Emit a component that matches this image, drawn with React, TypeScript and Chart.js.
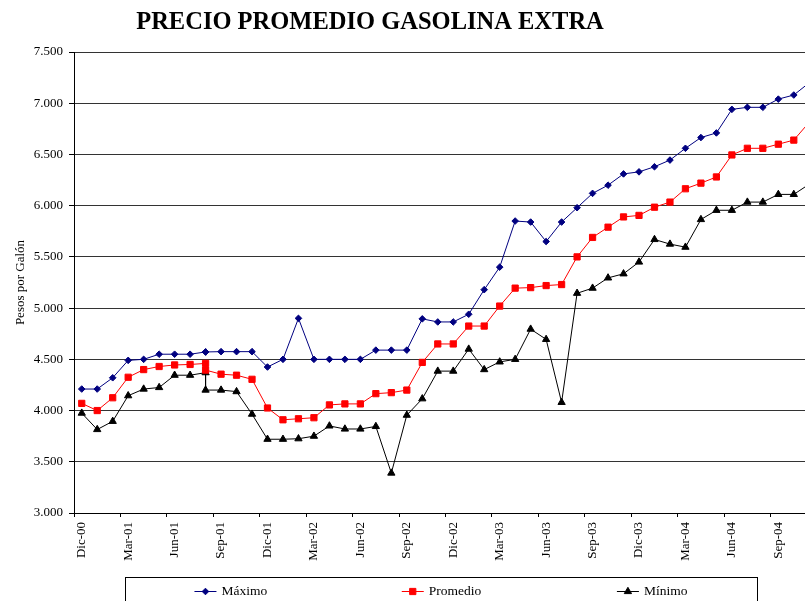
import React, { useEffect, useRef } from "react";
import { Chart, registerables } from "chart.js";

Chart.register(...registerables);

const TITLE = "PRECIO PROMEDIO GASOLINA EXTRA";
const Y_TITLE = "Pesos por Galón";

const months = [
  "Dic-00", "Ene-01", "Feb-01", "Mar-01", "Abr-01", "May-01", "Jun-01", "Jul-01", "Ago-01", "Sep-01", "Oct-01", "Nov-01",
  "Dic-01", "Ene-02", "Feb-02", "Mar-02", "Abr-02", "May-02", "Jun-02", "Jul-02", "Ago-02", "Sep-02", "Oct-02", "Nov-02",
  "Dic-02", "Ene-03", "Feb-03", "Mar-03", "Abr-03", "May-03", "Jun-03", "Jul-03", "Ago-03", "Sep-03", "Oct-03", "Nov-03",
  "Dic-03", "Ene-04", "Feb-04", "Mar-04", "Abr-04", "May-04", "Jun-04", "Jul-04", "Ago-04", "Sep-04", "Oct-04", "Nov-04",
];

// observation months (Aug-01 has two observations)
const pointMonths = [
  "Dic-00", "Ene-01", "Feb-01", "Mar-01", "Abr-01", "May-01", "Jun-01", "Jul-01", "Ago-01", "Ago-01", "Sep-01", "Oct-01", "Nov-01",
  "Dic-01", "Ene-02", "Feb-02", "Mar-02", "Abr-02", "May-02", "Jun-02", "Jul-02", "Ago-02", "Sep-02", "Oct-02", "Nov-02",
  "Dic-02", "Ene-03", "Feb-03", "Mar-03", "Abr-03", "May-03", "Jun-03", "Jul-03", "Ago-03", "Sep-03", "Oct-03", "Nov-03",
  "Dic-03", "Ene-04", "Feb-04", "Mar-04", "Abr-04", "May-04", "Jun-04", "Jul-04", "Ago-04", "Sep-04", "Oct-04", "Nov-04",
];

const maximo = [
  4210, 4210, 4320, 4490, 4500, 4550, 4550, 4550, 4572, 4572, 4575, 4575, 4575,
  4425, 4500, 4900, 4500, 4500, 4500, 4500, 4590, 4590, 4590, 4895, 4865,
  4865, 4940, 5180, 5400, 5850, 5840, 5650, 5840, 5980, 6120, 6200, 6310,
  6330, 6380, 6445, 6560, 6665, 6710, 6940, 6960, 6960, 7040, 7080, 7200,
];

const promedio = [
  4070, 4000, 4125, 4325, 4400, 4430, 4445, 4450, 4460, 4395, 4355, 4345, 4305,
  4025, 3910, 3920, 3930, 4055, 4065, 4065, 4165, 4175, 4200, 4470, 4650,
  4650, 4825, 4825, 5020, 5195, 5200, 5220, 5230, 5500, 5690, 5790, 5890,
  5905, 5985, 6035, 6165, 6220, 6280, 6495, 6560, 6560, 6600, 6640, 6815,
];

const minimo = [
  3975, 3815, 3895, 4145, 4210, 4225, 4345, 4345, 4370, 4200, 4200, 4185, 3965,
  3720, 3720, 3725, 3750, 3850, 3820, 3820, 3845, 3390, 3955, 4115, 4385,
  4385, 4600, 4400, 4475, 4500, 4795, 4695, 4080, 5145, 5195, 5295, 5335,
  5450, 5670, 5625, 5595, 5865, 5955, 5955, 6035, 6035, 6110, 6110, 6210,
];

const yTicks = [3000, 3500, 4000, 4500, 5000, 5500, 6000, 6500, 7000, 7500];

const FONT = "'Liberation Serif', 'Times New Roman', serif";

const fmt = (v: number) => {
  const n = Math.round(v);
  const th = Math.floor(n / 1000);
  const rest = String(n % 1000).padStart(3, "0");
  return th > 0 ? `${th}.${rest}` : String(n);
};

function drawMarker(ctx: CanvasRenderingContext2D, style: string, x: number, y: number, r: number, color: string) {
  ctx.save();
  ctx.fillStyle = color;
  ctx.strokeStyle = color;
  ctx.lineWidth = 1;
  ctx.beginPath();
  if (style === "rectRot") {
    ctx.moveTo(x - r, y);
    ctx.lineTo(x, y - r);
    ctx.lineTo(x + r, y);
    ctx.lineTo(x, y + r);
  } else if (style === "rect") {
    const s = Math.SQRT1_2 * r;
    ctx.rect(x - s, y - s, 2 * s, 2 * s);
  } else {
    ctx.moveTo(x, y - r);
    ctx.lineTo(x + Math.sin((2 * Math.PI) / 3) * r, y + r / 2);
    ctx.lineTo(x - Math.sin((2 * Math.PI) / 3) * r, y + r / 2);
  }
  ctx.closePath();
  ctx.fill();
  ctx.stroke();
  ctx.restore();
}

const titlePlugin = {
  id: "customTitle",
  afterDraw(chart: any) {
    const ctx = chart.ctx as CanvasRenderingContext2D;
    ctx.save();
    ctx.font = `bold 24.5px ${FONT}`;
    ctx.fillStyle = "#000";
    ctx.textAlign = "center";
    ctx.textBaseline = "alphabetic";
    ctx.fillText(TITLE, 370, 28.5);
    ctx.restore();
  },
};

const legendPlugin = {
  id: "boxLegend",
  afterDraw(chart: any) {
    const ctx = chart.ctx as CanvasRenderingContext2D;
    const boxL = 125.5, boxT = 577.5, boxW = 632, boxH = 40;
    ctx.save();
    ctx.strokeStyle = "#000";
    ctx.lineWidth = 1;
    ctx.strokeRect(boxL, boxT, boxW, boxH);
    ctx.font = `13.5px ${FONT}`;
    ctx.textBaseline = "middle";
    ctx.textAlign = "left";
    const ds = chart.data.datasets;
    const slot = boxW / ds.length;
    const y = 591;
    ds.forEach((d: any, i: number) => {
      const tw = ctx.measureText(d.label).width;
      const lineW = 22, gap = 5;
      const gw = lineW + gap + tw;
      const x0 = boxL + slot * i + (slot - gw) / 2;
      ctx.strokeStyle = d.borderColor;
      ctx.lineWidth = 1;
      ctx.beginPath();
      ctx.moveTo(x0, y + 0.5);
      ctx.lineTo(x0 + lineW, y + 0.5);
      ctx.stroke();
      drawMarker(ctx, d.pointStyle, x0 + lineW / 2, y + 0.5, d.pointRadius, d.borderColor);
      ctx.fillStyle = "#000";
      ctx.fillText(d.label, x0 + lineW + gap, y);
    });
    ctx.restore();
  },
};

export default function App() {
  const ref = useRef<HTMLCanvasElement | null>(null);

  useEffect(() => {
    if (!ref.current) return;
    const mk = (vals: number[]) => pointMonths.map((m, i) => ({ x: m, y: vals[i] }));
    const chart = new Chart(ref.current, {
      type: "line",
      data: {
        labels: months,
        datasets: [
          {
            label: "Máximo",
            data: mk(maximo) as any,
            borderColor: "#000080",
            backgroundColor: "#000080",
            borderWidth: 1,
            pointStyle: "rectRot",
            pointRadius: 3.3,
            pointBorderWidth: 1,
            tension: 0,
          },
          {
            label: "Promedio",
            data: mk(promedio) as any,
            borderColor: "#FF0000",
            backgroundColor: "#FF0000",
            borderWidth: 1,
            pointStyle: "rect",
            pointRadius: 4.4,
            pointBorderWidth: 1,
            tension: 0,
          },
          {
            label: "Mínimo",
            data: mk(minimo) as any,
            borderColor: "#000000",
            backgroundColor: "#000000",
            borderWidth: 1,
            pointStyle: "triangle",
            pointRadius: 4.2,
            pointBorderWidth: 1,
            tension: 0,
          },
        ],
      },
      options: {
        responsive: false,
        animation: false,
        devicePixelRatio: 1,
        events: [],
        layout: { padding: { top: 52, left: 0, right: 11.5, bottom: 67 } },
        plugins: {
          legend: { display: false },
          title: { display: false },
          tooltip: { enabled: false },
        },
        scales: {
          x: {
            type: "category",
            labels: months,
            offset: true,
            grid: {
              display: true,
              drawOnChartArea: false,
              drawTicks: true,
              tickLength: 4,
              offset: true,
              tickColor: (ctx: any) => (ctx.index % 3 === 0 ? "#000" : "rgba(0,0,0,0)"),
            },
            border: { display: true, color: "#000", width: 1 },
            ticks: {
              autoSkip: false,
              maxRotation: 90,
              minRotation: 90,
              padding: 5,
              color: "#000",
              font: { family: FONT, size: 13 },
              callback: (_v: any, i: number) => (i % 3 === 0 ? months[i] : ""),
            },
            afterFit: (s: any) => {
              s.height = 60;
            },
          },
          y: {
            min: yTicks[0],
            max: yTicks[yTicks.length - 1],
            afterBuildTicks: (s: any) => {
              s.ticks = yTicks.map((v) => ({ value: v }));
            },
            ticks: {
              color: "#000",
              font: { family: FONT, size: 13 },
              padding: 6,
              callback: (v: any) => fmt(Number(v)),
            },
            grid: { color: "#333", lineWidth: 1, tickLength: 5, tickColor: "#000", drawTicks: true },
            border: { display: true, color: "#000", width: 1 },
            title: {
              display: true,
              text: Y_TITLE,
              color: "#000",
              font: { family: FONT, size: 13 },
              padding: { top: 13, bottom: 0 },
            },
            afterFit: (s: any) => {
              s.width = 74;
            },
          },
        },
      },
      plugins: [titlePlugin, legendPlugin],
    });
    return () => chart.destroy();
  }, []);

  return (
    <div
      style={{
        position: "fixed",
        left: 0,
        top: 0,
        width: 805,
        height: 601,
        overflow: "hidden",
        background: "#fff",
      }}
    >
      <canvas ref={ref} width={830} height={640} style={{ display: "block", width: 830, height: 640 }} />
    </div>
  );
}
